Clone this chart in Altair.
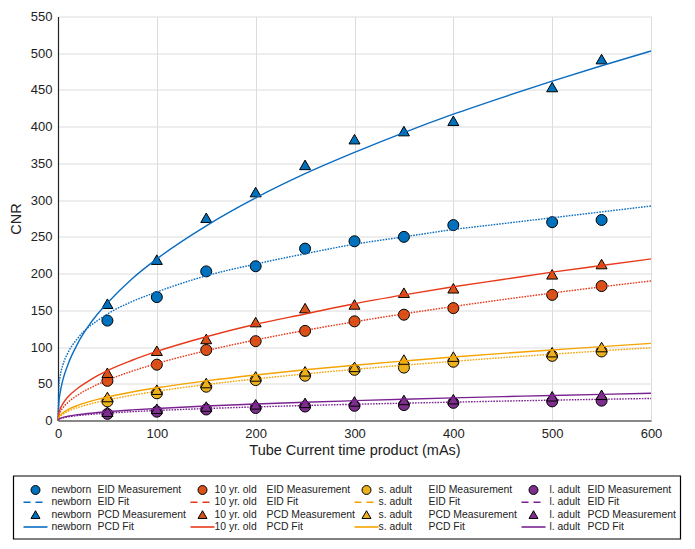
import altair as alt
import pandas as pd

# ---------------- data ----------------
groups = ["newborn", "10 yr. old", "s. adult", "l. adult"]

meas_x = [50, 100, 150, 200, 250, 300, 350, 400, 500, 550]
newborn_eid = [136, 168, 203, 210, 234, 244, 250, 266, 270, 273]
newborn_pcd = [159, 219, 276, 311, 348, 383, 394, 408, 454, 492]
tenyr_eid = [54, 76, 96, 108, 122, 135, 144, 153, 171, 183]
tenyr_pcd = [65, 95, 111, 134, 153, 158, 174, 180, 199, 213]
sadult_eid = [26, 37, 46, 55, 61, 69, 72, 80, 88, 94]
sadult_pcd = [32, 42, 51, 60, 67, 73, 83, 87, 93, 100]
ladult_eid = [9, 12, 15, 17, 19, 20, 21, 24, 26, 27]
ladult_pcd = [12, 16, 19, 22, 24, 26, 28, 29, 33, 35]

fit_x = [0, 1, 2, 5, 10, 20, 30, 40, 50, 75, 100, 150, 200, 250, 300, 350, 400, 450, 500, 550, 600]
newborn_eid_fit = [0, 48.3, 59, 76, 92, 112, 126, 136, 145, 162, 175, 197, 213, 227, 240, 250, 260, 268, 276, 284, 292]
newborn_pcd_fit = [0, 26.5, 36.4, 55.6, 76, 105, 127, 145, 160, 193, 220, 265, 303, 336, 365, 392, 417, 440, 462, 483, 503]
tenyr_eid_fit = [0, 7.8, 11, 17.4, 24.5, 34.7, 42.5, 49.1, 54.9, 67.2, 77.6, 95, 109.7, 122.7, 134.4, 145.2, 155.2, 164.6, 173.5, 182, 190]
tenyr_pcd_fit = [0, 10.7, 15, 23, 32, 44, 53, 61, 68, 82, 94, 114, 131, 145, 159, 171, 182, 192, 202, 211, 220]
sadult_eid_fit = [0, 3.8, 5.5, 8.7, 12.4, 17.6, 21.6, 25, 28, 34.4, 39.8, 49, 56.6, 63.4, 69.6, 75.3, 80.5, 85.6, 90.2, 94.8, 99]
sadult_pcd_fit = [0, 4.9, 6.9, 10.6, 14.8, 20.6, 25, 28.7, 32, 38.8, 44.5, 54, 62, 69, 75.3, 81, 86.4, 91.4, 96, 100.6, 105]
ladult_eid_fit = [0, 1.8, 2.4, 3.6, 4.9, 6.7, 8, 9.1, 10, 12, 13.6, 16.3, 18.5, 20.4, 22.1, 23.6, 25, 26.4, 27.7, 28.9, 30]
ladult_pcd_fit = [0, 2, 2.8, 4.2, 5.8, 7.9, 9.5, 10.8, 12, 14.4, 16.4, 19.7, 22.5, 24.9, 27, 29, 30.8, 32.5, 34, 35.5, 37]

legend_kinds = ["EID Measurement", "EID Fit", "PCD Measurement", "PCD Fit"]

# ---------------- styles ----------------
marker_colors = ["#0072BD", "#D95319", "#EDB120", "#7E2F8E"]
line_colors = ["#0A6CC0", "#E8391A", "#F5A300", "#7A2390"]
FONT = "Liberation Sans"

meas = {"EID": [newborn_eid, tenyr_eid, sadult_eid, ladult_eid],
        "PCD": [newborn_pcd, tenyr_pcd, sadult_pcd, ladult_pcd]}
fits = {"EID": [newborn_eid_fit, tenyr_eid_fit, sadult_eid_fit, ladult_eid_fit],
        "PCD": [newborn_pcd_fit, tenyr_pcd_fit, sadult_pcd_fit, ladult_pcd_fit]}

rows = []
for det, lists in meas.items():
    for g, vals in zip(groups, lists):
        for x, y in zip(meas_x, vals):
            rows.append({"x": x, "y": y, "group": g, "det": det})
meas_df = pd.DataFrame(rows)

rows = []
for det, lists in fits.items():
    for g, vals in zip(groups, lists):
        for x, y in zip(fit_x, vals):
            rows.append({"x": x, "y": y, "group": g, "det": det})
fit_df = pd.DataFrame(rows)

W, H = 593, 404

xenc = alt.X("x:Q", scale=alt.Scale(domain=[0, 600], nice=False),
             axis=alt.Axis(values=list(range(0, 601, 100)), title="Tube Current time product (mAs)",
                           grid=True, ticks=False, labelPadding=7, titlePadding=3, labelFlush=False))
yenc = alt.Y("y:Q", scale=alt.Scale(domain=[0, 550], nice=False),
             axis=alt.Axis(values=list(range(0, 551, 50)), title="CNR", grid=True, ticks=False,
                           labelPadding=6, titlePadding=6.5, labelFlush=False))

fill_scale = alt.Scale(domain=groups, range=marker_colors)
line_scale = alt.Scale(domain=groups, range=line_colors)

def pts(det, shape):
    return alt.Chart(meas_df).transform_filter(alt.datum.det == det).mark_point(
        shape=shape, filled=True, size=121, stroke="black", strokeWidth=1, opacity=1
    ).encode(x=xenc, y=yenc, fill=alt.Fill("group:N", scale=fill_scale, legend=None))

def fitline(det, dash):
    kw = {"strokeDash": dash} if dash else {}
    return alt.Chart(fit_df).transform_filter(alt.datum.det == det).mark_line(
        strokeWidth=1.4, interpolate="monotone", **kw
    ).encode(x=xenc, y=yenc, color=alt.Color("group:N", scale=line_scale, legend=None),
             detail="group:N")

main = alt.layer(
    pts("EID", "circle"), fitline("EID", [1.6, 1.2]),
    pts("PCD", "triangle-up"), fitline("PCD", None)
).properties(width=W, height=H)

# ---------------- legend panel (layout offsets in px from plot origin) ----------------
LEG_H = 63
marker_x = [-22.5, 144.5, 308.5, 475.5]
name_x = [-6.5, 156.5, 320.5, 491.5]
kind_x = [39.5, 208.5, 370.5, 529.5]
row_y = [14, 26.3, 38.6, 51]

lrows = []
for c, g in enumerate(groups):
    for r, k in enumerate(legend_kinds):
        lrows.append({"group": g, "kind": k, "r": r, "mx": marker_x[c], "nx": name_x[c],
                      "kx": kind_x[c], "y": row_y[r], "lx1": marker_x[c] - 12, "lx2": marker_x[c] + 12})
leg_df = pd.DataFrame(lrows)
box_df = pd.DataFrame([{"x1": -44.5, "x2": 622.5, "y1": 0, "y2": LEG_H}])

lx = alt.Scale(domain=[0, W], nice=False, zero=False)
ly = alt.Scale(domain=[LEG_H, 0], nice=False, zero=False)

box = alt.Chart(box_df).mark_rect(fill="white", stroke="black", strokeWidth=1.2).encode(
    x=alt.X("x1:Q", scale=lx, axis=None), x2="x2:Q",
    y=alt.Y("y1:Q", scale=ly, axis=None), y2="y2:Q")

base = alt.Chart(leg_df)
lcirc = base.transform_filter(alt.datum.r == 0).mark_point(
    shape="circle", filled=True, size=80, stroke="black", strokeWidth=1, opacity=1
).encode(x=alt.X("mx:Q", scale=lx, axis=None), y=alt.Y("y:Q", scale=ly, axis=None),
         fill=alt.Fill("group:N", scale=fill_scale, legend=None))
ltri = base.transform_filter(alt.datum.r == 2).mark_point(
    shape="triangle-up", filled=True, size=80, stroke="black", strokeWidth=1, opacity=1
).encode(x=alt.X("mx:Q", scale=lx, axis=None), y=alt.Y("y:Q", scale=ly, axis=None),
         fill=alt.Fill("group:N", scale=fill_scale, legend=None))
ldash = base.transform_filter(alt.datum.r == 1).mark_rule(strokeWidth=1.6, strokeDash=[7, 5]).encode(
    x=alt.X("lx1:Q", scale=lx, axis=None), x2="lx2:Q", y=alt.Y("y:Q", scale=ly, axis=None),
    color=alt.Color("group:N", scale=line_scale, legend=None))
lsolid = base.transform_filter(alt.datum.r == 3).mark_rule(strokeWidth=1.6).encode(
    x=alt.X("lx1:Q", scale=lx, axis=None), x2="lx2:Q", y=alt.Y("y:Q", scale=ly, axis=None),
    color=alt.Color("group:N", scale=line_scale, legend=None))
tname = base.mark_text(align="left", baseline="middle", fontSize=10.4, font=FONT, color="#222").encode(
    x=alt.X("nx:Q", scale=lx, axis=None), y=alt.Y("y:Q", scale=ly, axis=None), text="group:N")
tkind = base.mark_text(align="left", baseline="middle", fontSize=10.4, font=FONT, color="#222").encode(
    x=alt.X("kx:Q", scale=lx, axis=None), y=alt.Y("y:Q", scale=ly, axis=None), text="kind:N")

legend = alt.layer(box, ldash, lsolid, lcirc, ltri, tname, tkind).properties(width=W, height=LEG_H)

chart = alt.vconcat(main, legend, spacing=17.5).resolve_scale(
    color="independent", fill="independent"
).properties(
    padding={"left": 0, "top": 2.5, "right": 0, "bottom": 0}
).configure_view(strokeWidth=0).configure_axis(
    labelFont=FONT, titleFont=FONT, labelFontSize=13, titleFontSize=14.5,
    titleFontWeight="normal", labelColor="#222", titleColor="#222",
    domainColor="#222", domainWidth=1.2, gridColor="#dcdcdc", gridWidth=1
)

chart.save("out.html", embed_options={"renderer": "svg", "actions": False})
